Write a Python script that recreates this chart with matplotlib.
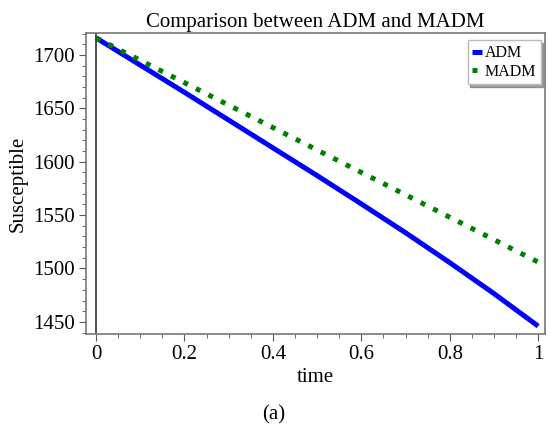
import matplotlib.pyplot as plt
import numpy as np
from matplotlib.ticker import MultipleLocator

plt.rcParams['font.family'] = ['Liberation Serif', 'DejaVu Serif']

# data
t = [0.0, 0.1, 0.2, 0.3, 0.4, 0.5, 0.6, 0.7, 0.8, 0.9, 1.0]
adm = [1716, 1690.5, 1665, 1639, 1613, 1587, 1560.5, 1533.5, 1505.5, 1476.5, 1446]
madm = [1716, 1695, 1674, 1653, 1632, 1611, 1590, 1569, 1548, 1527, 1506]

fig = plt.figure(figsize=(5.48, 4.28), dpi=100)
ax = fig.add_axes([0.157, 0.220, 0.838, 0.703])

ax.plot(t, adm, color='#0000ff', lw=3.6, solid_capstyle='butt', label='ADM')
ax.plot(t, madm, color='#008000', lw=3.6, linestyle=(0, (1, 1.8)),
        dash_capstyle='butt', label='MADM')

# axis line through t=0
ax.axvline(0, color='#444444', lw=1.3, zorder=1)

ax.set_xlim(-0.0226, 1.016)
ax.set_ylim(1438.8, 1720.6)
ax.set_xticks([0, 0.2, 0.4, 0.6, 0.8, 1])
ax.set_xticklabels(['0', '0.2', '0.4', '0.6', '0.8', '1'])
ax.set_yticks([1450, 1500, 1550, 1600, 1650, 1700])
ax.xaxis.set_minor_locator(MultipleLocator(0.05))
ax.yaxis.set_minor_locator(MultipleLocator(10))
ax.tick_params(axis='both', which='major', labelsize=15, length=5, color='#555555', pad=3)
ax.tick_params(axis='both', which='minor', length=3, color='#555555')

for s in ax.spines.values():
    s.set_color('#777777')
    s.set_linewidth(1.2)

ax.set_title('Comparison between ADM and MADM', fontsize=15, pad=4)
ax.set_xlabel('time', fontsize=15, labelpad=3)
ax.set_ylabel('Susceptible', fontsize=15, labelpad=4)

leg = ax.legend(loc='upper right', bbox_to_anchor=(0.99, 0.975), fontsize=11.5,
                handlelength=0.6, handletextpad=0.15, borderpad=0.3, labelspacing=0.15,
                fancybox=False, shadow=True, borderaxespad=0)
leg.get_frame().set_edgecolor('#bbbbbb')

fig.text(0.5, 0.03, '(a)', ha='center', va='center', fontsize=15)

plt.savefig('out.png')
